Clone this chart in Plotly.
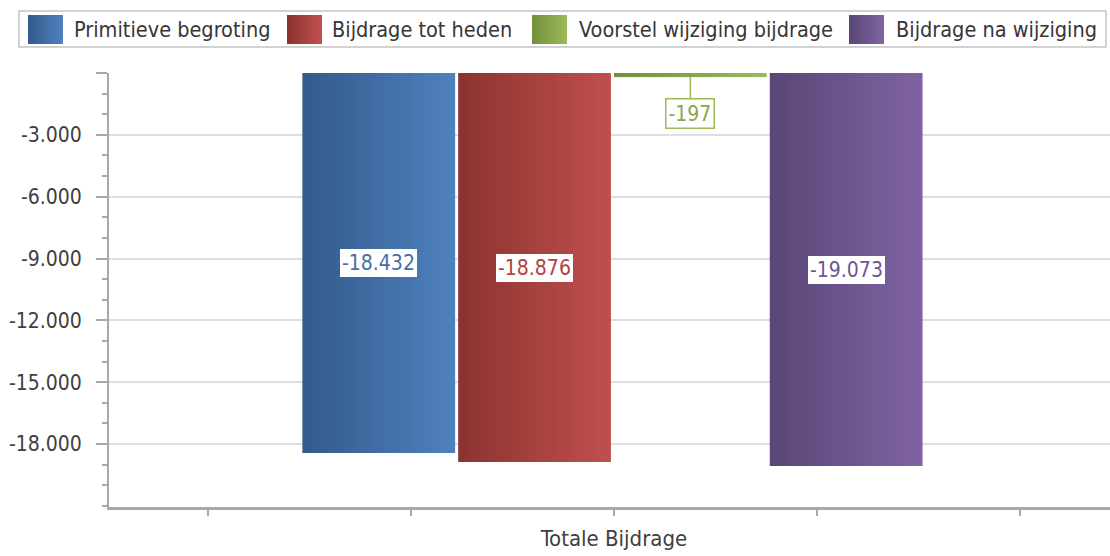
import plotly.graph_objects as go

# ---------------- data ----------------
categories = ["Totale Bijdrage"]
series_names = ["Primitieve begroting", "Bijdrage tot heden",
                "Voorstel wijziging bijdrage", "Bijdrage na wijziging"]
values = [-18432, -18876, -197, -19073]
value_labels = ["-18.432", "-18.876", "-197", "-19.073"]
y_tickvals = [0, -3000, -6000, -9000, -12000, -15000, -18000]
y_ticktext = ["", "-3.000", "-6.000", "-9.000", "-12.000", "-15.000", "-18.000"]

# ---------------- style ----------------
colors_dark = ["#335a8c", "#8b3330", "#738f3a", "#594676"]
colors_light = ["#4f81bd", "#c0504d", "#9bbb59", "#8064a2"]
label_colors = ["#4570a8", "#b4423f", "#8aa84a", "#6f5592"]
FONT = "DejaVu Sans Condensed, Noto Sans, sans-serif"

W_FIG, H_FIG = 1110, 556
L, R, T, B = 109, 1110, 73, 507  # plot area in pixels


def xp(px):
    return (px - L) / (R - L)


def yp(py):
    return (B - py) / (B - T)


def hex2rgb(h):
    h = h.lstrip("#")
    return [int(h[i:i + 2], 16) for i in (0, 2, 4)]


def mix(c1, c2, t):
    a, b = hex2rgb(c1), hex2rgb(c2)
    return "rgb(%d,%d,%d)" % tuple(round(a[i] + (b[i] - a[i]) * t) for i in range(3))


fig = go.Figure()

# bars drawn as gradient slices
slot = 0.1535
bar_w = 0.1505
center = -0.0015
n_slices = 28
n = len(values)
annotations = []
for i, (name, v) in enumerate(zip(series_names, values)):
    left = center - n / 2 * slot + i * slot + (slot - bar_w) / 2
    for k in range(n_slices):
        off = left + k * bar_w / n_slices
        w = min(bar_w / n_slices * 1.8, left + bar_w - off)
        fig.add_trace(go.Bar(
            x=[0], y=[v], offset=off, width=w,
            marker=dict(color=mix(colors_dark[i], colors_light[i], (k + 0.5) / n_slices),
                        line=dict(width=0)),
            name=name, legendgroup=name, showlegend=False, hoverinfo="skip"))
    cx = left + bar_w / 2
    if abs(v) < 2000:
        annotations.append(dict(
            x=cx, y=v, xref="x", yref="y", text=value_labels[i],
            showarrow=True, arrowhead=0, arrowwidth=1.5, arrowcolor=colors_light[i],
            ax=0, ay=36, standoff=0,
            font=dict(family=FONT, size=21, color=label_colors[i]),
            bgcolor="white", bordercolor=colors_light[i], borderwidth=1.5, borderpad=2))
    else:
        annotations.append(dict(
            x=cx, y=v / 2, xref="x", yref="y", text=value_labels[i], showarrow=False,
            font=dict(family=FONT, size=21, color=label_colors[i]),
            bgcolor="white", bordercolor="white", borderwidth=1, borderpad=1))

# ---------------- custom legend ----------------
shapes = []
shapes.append(dict(type="rect", xref="paper", yref="paper",
                   x0=xp(19), x1=xp(1106), y0=yp(47), y1=yp(11),
                   line=dict(color="#c4c4c4", width=1.5), fillcolor="white", layer="above"))
sw_x = [28, 287, 532, 849]
txt_x = [72, 330, 577, 894]
sw_w = 35
n_sw = 14
for i, name in enumerate(series_names):
    for k in range(n_sw):
        x0 = sw_x[i] + k * sw_w / n_sw
        x1 = min(x0 + sw_w / n_sw * 1.6, sw_x[i] + sw_w)
        shapes.append(dict(type="rect", xref="paper", yref="paper",
                           x0=xp(x0), x1=xp(x1), y0=yp(44), y1=yp(15),
                           line=dict(width=0),
                           fillcolor=mix(colors_dark[i], colors_light[i], (k + 0.5) / n_sw),
                           layer="above"))
    annotations.append(dict(x=xp(txt_x[i]), y=yp(29.5), xref="paper", yref="paper",
                            xanchor="left", yanchor="middle", showarrow=False, text=name,
                            font=dict(family=FONT, size=21.5, color="#363636")))

fig.update_layout(
    width=W_FIG, height=H_FIG,
    margin=dict(l=L, r=W_FIG - R, t=T, b=H_FIG - B, pad=0),
    paper_bgcolor="white", plot_bgcolor="white",
    barmode="overlay", showlegend=False,
    font=dict(family=FONT, size=21, color="#404040"),
    shapes=shapes, annotations=annotations,
    xaxis=dict(range=[-0.4975, 0.4887], tickmode="array",
               tickvals=[-0.4, -0.2, 0, 0.2, 0.4],
               ticktext=["", ""] + categories + ["", ""],
               showgrid=False, zeroline=False, showline=True,
               linecolor="#a8a8a8", linewidth=2.5,
               ticks="outside", ticklen=6, tickwidth=1.5, tickcolor="#a8a8a8",
               ticklabelstandoff=4,
               tickfont=dict(family=FONT, size=22, color="#404040")),
    yaxis=dict(range=[-21057, 0], tickmode="array",
               tickvals=y_tickvals, ticktext=y_ticktext,
               showgrid=True, gridcolor="#dedede", gridwidth=1.5,
               zeroline=False, showline=True, linecolor="#a8a8a8", linewidth=2,
               ticks="outside", ticklen=11, tickwidth=1.5, tickcolor="#a8a8a8",
               ticklabelstandoff=10,
               tickfont=dict(family=FONT, size=21, color="#404040"),
               minor=dict(ticks="outside", ticklen=5, tickwidth=1.5, tickcolor="#a8a8a8",
                          tickmode="linear", tick0=0, dtick=1000, showgrid=False)),
)

fig.write_html(
    "out.html",
    config={"displayModeBar": False},
    post_script=("document.body.style.margin='0';"
                 "document.body.style.overflow='hidden';"
                 "document.documentElement.style.overflow='hidden';"),
)
